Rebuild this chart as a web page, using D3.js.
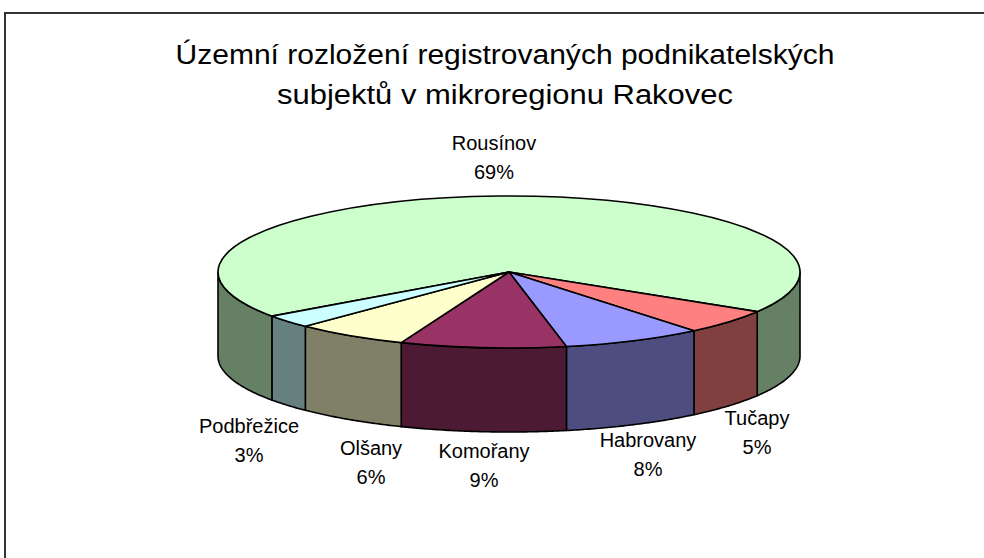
<!DOCTYPE html>
<html>
<head>
<meta charset="utf-8">
<script src="https://cdn.jsdelivr.net/npm/d3@7"></script>
<style>
  body { margin: 0; background: #fff; }
  text { font-family: "Liberation Sans", Arial, sans-serif; fill: #000; }
</style>
</head>
<body>
<svg id="chart"></svg>
<script>
// Data
const categories = ["Rousínov", "Tučapy", "Habrovany", "Komořany", "Olšany", "Podbřežice"];
const shares = [68.6, 5.3, 7.8, 9.2, 6.3, 2.8];
const topColors = ["#ccffcc", "#ff8080", "#9999ff", "#993366", "#ffffcc", "#ccffff"];
const sideColors = ["#668066", "#804040", "#4d4d80", "#4d1a33", "#808066", "#668080"];
const titleLines = ["Územní rozložení registrovaných podnikatelských", "subjektů v mikroregionu Rakovec"];

// Configurations
let width = 984;
let height = 558;
let cx = 509; // ellipse centre
let cy = 272;
let rx = 291; // horizontal radius
let ry = 76; // vertical radius (tilt)
let depth = 84; // thickness of the pie
let startAngle = 234.5 * Math.PI / 180; // first slice begins lower left

// label anchor points (centre x, first baseline)
let labelPos = [[494, 150], [757, 425], [648, 447], [484, 458], [371, 455], [249, 433]];

const svg = d3.select("#chart")
    .attr("width", width)
    .attr("height", height)
    .attr("viewBox", [0, 0, width, height]);

// frame
svg.append("path")
    .attr("d", `M5,${height + 5}V13H${width + 5}`)
    .attr("fill", "none")
    .attr("stroke", "#333")
    .attr("stroke-width", 2);

// title
svg.append("g")
    .selectAll("text")
    .data(titleLines)
    .join("text")
    .attr("x", 505)
    .attr("y", (d, i) => 64 + i * 40)
    .attr("text-anchor", "middle")
    .attr("font-size", 27)
    .attr("textLength", (d, i) => [659, 456][i])
    .attr("lengthAdjust", "spacingAndGlyphs")
    .text(d => d);

const pie = d3.pie()
    .sort(null)
    .value(d => d)
    .startAngle(startAngle)
    .endAngle(startAngle + 2 * Math.PI);

const arcs = pie(shares);
const color = d3.scaleOrdinal(d3.range(categories.length), topColors);
const side = d3.scaleOrdinal(d3.range(categories.length), sideColors);

// angle measured clockwise from 12 o'clock, as d3.pie does
const px = a => cx + rx * Math.sin(a);
const py = (a, dy = 0) => cy - ry * Math.cos(a) + dy;

// parts of a slice that face the viewer (bottom half of the ellipse)
function frontParts(a0, a1) {
    const parts = [];
    for (const k of [0, 1, 2]) {
        const lo = Math.PI / 2 + k * 2 * Math.PI;
        const hi = 3 * Math.PI / 2 + k * 2 * Math.PI;
        const s = Math.max(a0, lo), e = Math.min(a1, hi);
        if (e > s) parts.push([s, e]);
    }
    return parts;
}

function wallPath([s, e]) {
    const n = Math.max(2, Math.ceil((e - s) / 0.01));
    const top = d3.range(n + 1).map(i => s + (e - s) * i / n);
    const pts = top.map(a => [px(a), py(a)])
        .concat(top.slice().reverse().map(a => [px(a), py(a, depth)]));
    return d3.line()(pts) + "Z";
}

const walls = arcs.flatMap((d, i) => frontParts(d.startAngle, d.endAngle).map(p => ({p, i})));

svg.append("g")
    .selectAll("path")
    .data(walls)
    .join("path")
    .attr("d", d => wallPath(d.p))
    .attr("fill", d => side(d.i))
    .attr("stroke", "#000")
    .attr("stroke-width", 1.6)
    .attr("stroke-linejoin", "round");

svg.append("g")
    .selectAll("path")
    .data(arcs)
    .join("path")
    .attr("d", d => {
        const large = d.endAngle - d.startAngle > Math.PI ? 1 : 0;
        return `M${cx},${cy}L${px(d.startAngle)},${py(d.startAngle)}` +
            `A${rx},${ry} 0 ${large} 1 ${px(d.endAngle)},${py(d.endAngle)}Z`;
    })
    .attr("fill", (d, i) => color(i))
    .attr("stroke", "#000")
    .attr("stroke-width", 1.6)
    .attr("stroke-linejoin", "round");

// labels
const total = d3.sum(shares);
const label = svg.append("g")
    .selectAll("text")
    .data(categories)
    .join("text")
    .attr("text-anchor", "middle")
    .attr("font-size", 20);

label.append("tspan")
    .attr("x", (d, i) => labelPos[i][0])
    .attr("y", (d, i) => labelPos[i][1])
    .text(d => d);

label.append("tspan")
    .attr("x", (d, i) => labelPos[i][0])
    .attr("y", (d, i) => labelPos[i][1] + 29)
    .text((d, i) => Math.round(shares[i] / total * 100) + "%");
</script>
</body>
</html>
